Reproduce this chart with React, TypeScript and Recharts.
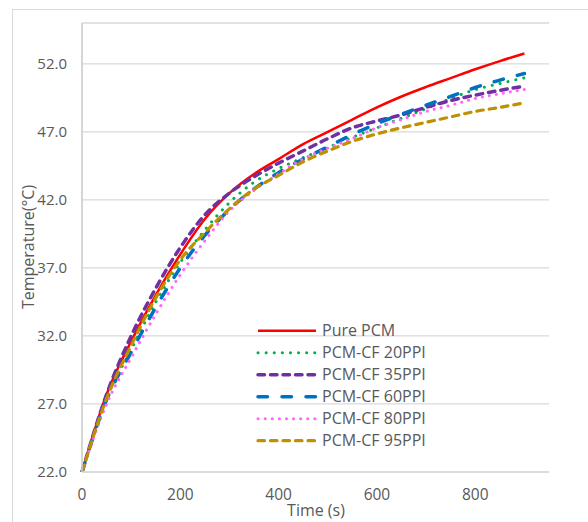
import React from "react"
import { CartesianGrid, Customized, Line, LineChart, XAxis, YAxis } from "recharts"

// time in seconds
const times = [0, 50, 100, 150, 200, 250, 300, 350, 400, 450, 500, 550, 600, 650, 700, 750, 800, 850, 900]

const purePcm = [22.0, 27.7, 31.6, 35.0, 38.0, 40.6, 42.5, 43.9, 45.0, 46.1, 47.0, 47.9, 48.8, 49.6, 50.3, 50.95, 51.6, 52.2, 52.76]
const cf20 = [22.0, 27.4, 31.0, 34.5, 37.4, 39.8, 41.8, 43.3, 44.3, 45.1, 45.85, 46.6, 47.3, 48.0, 48.7, 49.45, 50.1, 50.55, 50.97]
const cf35 = [22.0, 27.7, 32.0, 35.5, 38.5, 40.9, 42.5, 43.7, 44.7, 45.6, 46.5, 47.3, 47.8, 48.25, 48.8, 49.3, 49.7, 50.05, 50.35]
const cf60 = [22.0, 27.3, 30.8, 34.1, 37.0, 39.4, 41.3, 42.8, 44.0, 45.0, 45.9, 46.8, 47.6, 48.3, 48.96, 49.6, 50.26, 50.8, 51.29]
const cf80 = [22.0, 27.0, 30.4, 33.6, 36.5, 39.0, 41.2, 42.7, 43.9, 45.0, 45.8, 46.5, 47.3, 47.9, 48.5, 48.95, 49.45, 49.8, 50.12]
const cf95 = [22.0, 27.4, 31.3, 34.8, 37.6, 39.6, 41.35, 42.8, 43.8, 44.8, 45.6, 46.3, 46.85, 47.3, 47.7, 48.1, 48.5, 48.8, 49.13]

const xTicks = [0, 200, 400, 600, 800]
const yTicks = [22, 27, 32, 37, 42, 47, 52]

const seriesNames = ["Pure PCM", "PCM-CF 20PPI", "PCM-CF 35PPI", "PCM-CF 60PPI", "PCM-CF 80PPI", "PCM-CF 95PPI"]
const seriesValues = [purePcm, cf20, cf35, cf60, cf80, cf95]

const styles = [
  { color: "#FF0000", width: 2.5, dash: undefined, cap: "butt" },
  { color: "#00B050", width: 3, dash: "0.1 8", cap: "round" },
  { color: "#7030A0", width: 3.5, dash: "6.5 6", cap: "round" },
  { color: "#0070C0", width: 3.5, dash: "9.5 14.5", cap: "round" },
  { color: "#FF66FF", width: 3, dash: "0.1 7", cap: "round" },
  { color: "#BF9000", width: 3.2, dash: "6.5 6", cap: "round" },
]

const data = times.map((t, i) => {
  const row: Record<string, number> = { t }
  seriesValues.forEach((vals, k) => {
    row[`s${k}`] = vals[i]
  })
  return row
})

const FONT = "'Open Sans', sans-serif"
const TEXT = "#595959"

// legend + axis titles drawn straight into the chart svg
const Overlay = () => (
  <g fontFamily={FONT} fill={TEXT} fontSize={16}>
    <text x={28.5} y={247} transform="rotate(-90 28.5 247)" textAnchor="middle" dy="0.35em">
      Temperature(°C)
    </text>
    <text x={316} y={510} textAnchor="middle" dy="0.35em">
      Time (s)
    </text>
    {seriesNames.map((name, i) => {
      const s = styles[i]
      const y = 330.7 + i * 22
      return (
        <g key={name}>
          <line
            x1={258}
            x2={316}
            y1={y}
            y2={y}
            stroke={s.color}
            strokeWidth={s.width}
            strokeDasharray={s.dash}
            strokeLinecap={s.cap as any}
          />
          <text x={322} y={y} dy="0.35em">
            {name}
          </text>
        </g>
      )
    })}
  </g>
)

export default function App() {
  return (
    <div style={{ position: "fixed", left: 0, top: 0, width: 588, height: 522, overflow: "hidden", background: "#fff" }}>
      <div
        style={{
          position: "absolute",
          left: 12,
          top: 9,
          width: 640,
          height: 640,
          border: "1px solid #D9D9D9",
        }}
      />
      <div style={{ position: "absolute", left: 0, top: 0 }}>
        <LineChart width={588} height={522} data={data} margin={{ top: 23, right: 39, bottom: 20, left: 22 }}>
          <CartesianGrid vertical={false} stroke="#D9D9D9" strokeWidth={1.3} />
          <XAxis
            dataKey="t"
            type="number"
            domain={[0, 950]}
            ticks={xTicks}
            height={30}
            tickLine={false}
            tickSize={0}
            tickMargin={17}
            axisLine={{ stroke: "#D9D9D9", strokeWidth: 1.3 }}
            tick={{ fill: TEXT, fontSize: 15.5, fontFamily: FONT }}
          />
          <YAxis
            type="number"
            domain={[22, 55]}
            ticks={yTicks}
            width={60}
            tickLine={false}
            tickSize={0}
            tickMargin={15}
            allowDataOverflow
            axisLine={{ stroke: "#C8C8C8", strokeWidth: 1.5 }}
            tickFormatter={(v: number) => v.toFixed(1)}
            tick={{ fill: TEXT, fontSize: 15, fontFamily: FONT }}
          />
          {seriesNames.map((name, i) => (
            <Line
              key={name}
              name={name}
              dataKey={`s${i}`}
              type="monotone"
              stroke={styles[i].color}
              strokeWidth={styles[i].width}
              strokeDasharray={styles[i].dash}
              strokeLinecap={styles[i].cap as any}
              dot={false}
              activeDot={false}
              isAnimationActive={false}
            />
          ))}
          <Customized component={Overlay} />
        </LineChart>
      </div>
    </div>
  )
}
